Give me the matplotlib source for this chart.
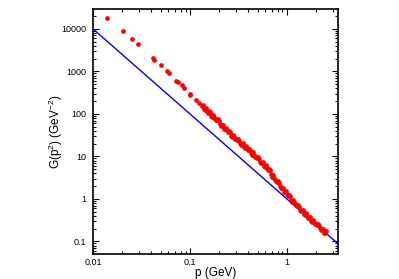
import matplotlib
matplotlib.use("Agg")
import matplotlib.pyplot as plt
import matplotlib.ticker as ticker

plt.rcParams['font.family'] = ['Liberation Sans', 'DejaVu Sans']
plt.rcParams['mathtext.fontset'] = 'custom'
plt.rcParams['mathtext.rm'] = 'Liberation Sans'
plt.rcParams['mathtext.it'] = 'Liberation Sans:italic'
plt.rcParams['mathtext.default'] = 'regular'

# sparse low-momentum lattice points
p_low = [0.014, 0.0202, 0.0252, 0.0291, 0.0412, 0.0428, 0.0501, 0.0575, 0.0608,
         0.0718, 0.0752, 0.082, 0.0867, 0.1, 0.101, 0.115, 0.124]
G_low = [18500, 8950, 5900, 4400, 2100, 1860, 1380, 1020, 910,
         605, 575, 473, 407, 295, 285, 215, 178]

# dense band at higher momentum (first set)
p_band = [0.1330, 0.1394, 0.1462, 0.1533, 0.1608, 0.1686, 0.1768, 0.1854, 0.1943, 0.2038,
          0.2137, 0.2241, 0.2350, 0.2464, 0.2584, 0.2710, 0.2842, 0.2980, 0.3125, 0.3277,
          0.3437, 0.3604, 0.3779, 0.3963, 0.4156, 0.4358, 0.4570, 0.4792, 0.5024, 0.5268,
          0.5525, 0.5793, 0.6074, 0.6370, 0.6680, 0.7004, 0.7344, 0.7701, 0.8076, 0.8469,
          0.8880, 0.9313, 0.9765, 1.024, 1.074, 1.126, 1.181, 1.238, 1.298, 1.361,
          1.428, 1.497, 1.570, 1.646, 1.726, 1.810, 1.898, 1.991, 2.087, 2.189,
          2.296, 2.407, 2.524]
G_band = [155.1, 129.0, 136.9, 107.9, 108.5, 82.7, 85.0, 72.3, 74.2, 56.6,
          53.6, 44.4, 46.8, 36.7, 36.9, 28.3, 29.4, 25.3, 26.2, 20.2,
          19.5, 16.4, 17.6, 14.0, 14.2, 10.8, 11.1, 9.47, 9.73, 7.42,
          7.03, 5.82, 6.14, 4.81, 4.75, 3.29, 3.17, 2.64, 2.60, 1.97,
          1.82, 1.48, 1.53, 1.17, 1.145, 0.855, 0.859, 0.719, 0.730, 0.551,
          0.525, 0.437, 0.463, 0.365, 0.367, 0.283, 0.294, 0.253, 0.262, 0.202,
          0.194, 0.161, 0.172]

# dense band (second set, other lattices)
p_band2 = [0.1361, 0.1427, 0.1497, 0.1570, 0.1646, 0.1726, 0.1810, 0.1898, 0.1991, 0.2088,
           0.2189, 0.2295, 0.2407, 0.2524, 0.2647, 0.2775, 0.2910, 0.3051, 0.3200, 0.3355,
           0.3518, 0.3690, 0.3869, 0.4057, 0.4254, 0.4461, 0.4678, 0.4905, 0.5144, 0.5395,
           0.5657, 0.5932, 0.6221, 0.6523, 0.6842, 0.7174, 0.7523, 0.7889, 0.8271, 0.8673,
           0.9095, 0.9537, 1.000, 1.049, 1.100, 1.153, 1.209, 1.268, 1.329, 1.394,
           1.462, 1.533, 1.608, 1.686, 1.768, 1.854, 1.944, 2.038, 2.138, 2.242,
           2.350, 2.465]
G_band2 = [159.8, 125.9, 119.9, 114.2, 89.7, 94.7, 74.2, 70.3, 66.6, 52.2,
           55.1, 43.2, 40.9, 38.7, 30.5, 32.6, 25.8, 24.7, 23.7, 18.8,
           20.2, 16.1, 15.5, 14.9, 11.8, 12.4, 9.73, 9.22, 8.73, 6.84,
           7.22, 5.66, 5.36, 5.08, 3.77, 3.57, 2.74, 2.53, 2.34, 1.80,
           1.85, 1.42, 1.318, 1.222, 0.937, 0.968, 0.742, 0.696, 0.652, 0.509,
           0.541, 0.426, 0.406, 0.386, 0.305, 0.326, 0.258, 0.247, 0.237, 0.187,
           0.200, 0.158]

# reference power law, end points
line_p = [0.01, 3.5]
line_G = [10000, 0.0816]

fig = plt.figure(figsize=(3.99, 2.79), dpi=100)
ax = fig.add_axes([0.233, 0.090, 0.614, 0.878])

ax.plot(line_p, line_G, color='#0000ff', lw=1.0, zorder=2)
ax.plot(p_low + p_band + p_band2, G_low + G_band + G_band2, 'o',
        color='#ff0000', ms=3.4, mec='none', zorder=3)

ax.set_xscale('log')
ax.set_yscale('log')
ax.set_xlim(0.01, 3.36)
ax.set_ylim(0.051, 29500)

fmt = ticker.FuncFormatter(lambda v, _: f'{v:g}')
ax.xaxis.set_major_formatter(fmt)
ax.yaxis.set_major_formatter(fmt)
ax.xaxis.set_minor_formatter(ticker.NullFormatter())
ax.yaxis.set_minor_formatter(ticker.NullFormatter())

ax.tick_params(which='both', direction='in', top=True, right=True, labelsize=6.5, width=0.8)
ax.tick_params(which='major', length=4)
ax.tick_params(axis='x', which='major', pad=3)
ax.tick_params(axis='y', which='major', pad=5)
ax.tick_params(which='minor', length=2)
for s in ax.spines.values():
    s.set_linewidth(1.2)

ax.set_xlabel('p (GeV)', fontsize=8.5, labelpad=0)
ax.set_ylabel('G(p$^2$) (GeV$^{-2}$)', fontsize=8.5, labelpad=-3)

fig.savefig('out.png', dpi=100)
